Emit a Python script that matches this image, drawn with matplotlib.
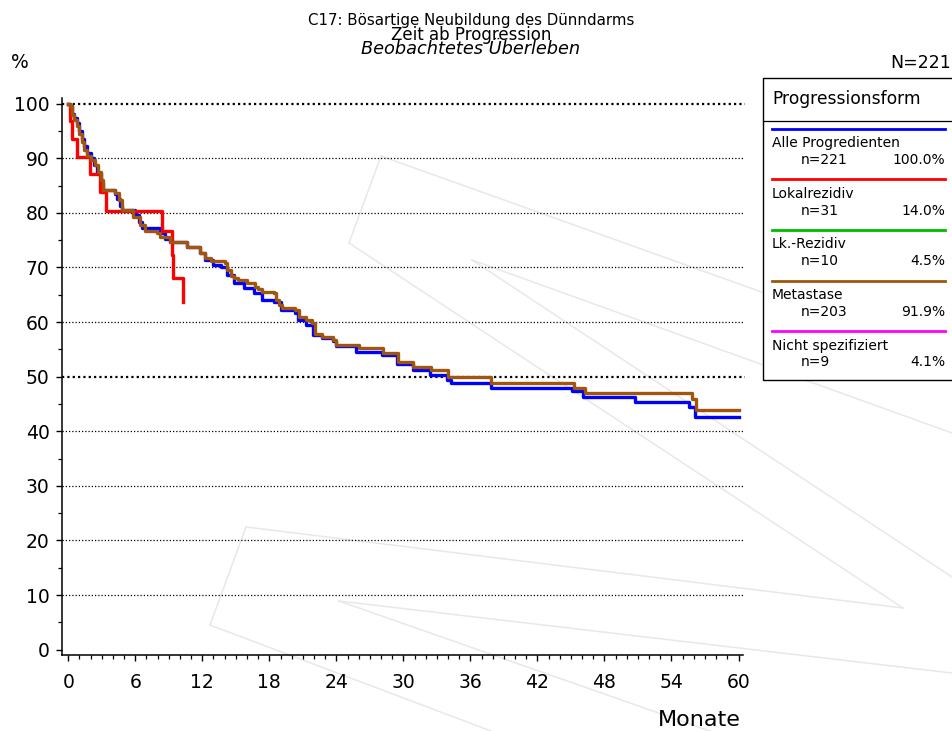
import numpy as np
import matplotlib.pyplot as plt
from matplotlib.patches import Rectangle
from matplotlib.lines import Line2D

# ----------
# DATA
# ----------
# Alle Progredienten (n=221)
alle_t = [0, 0.15, 0.3, 0.5, 0.8, 1.0, 1.2, 1.4, 1.7, 2.0, 2.3, 2.6, 2.9, 3.1,
          4.2, 4.4, 4.6, 4.8, 6.0, 6.3, 6.6, 8.2, 8.7, 9.1, 10.6, 11.8, 12.2,
          13.0, 13.7, 14.2, 14.8, 15.7, 16.6, 17.3, 18.4, 19.0, 20.3, 20.6,
          21.3, 21.9, 22.7, 23.7, 24.0, 25.8, 28.1, 29.4, 30.9, 32.4, 33.9,
          34.3, 37.8, 45.1, 46.1, 50.7, 55.6, 56.1, 60.0]
alle_s = [100, 99.5, 98.2, 97.3, 96.4, 95.0, 93.6, 92.3, 91.0, 90.0, 88.7, 87.3,
          85.5, 84.2, 83.5, 82.5, 81.2, 80.5, 79.6, 78.4, 77.2, 76.3, 75.3, 74.7,
          73.8, 72.6, 71.4, 70.5, 70.1, 68.6, 67.1, 66.2, 65.3, 64.0, 63.7, 62.2,
          61.6, 60.4, 59.5, 57.6, 57.0, 56.5, 55.6, 54.6, 54.0, 52.4, 51.2, 50.3,
          49.4, 48.8, 48.0, 47.3, 46.3, 45.3, 44.4, 42.6, 42.6]

# Lokalrezidiv (n=31)
lokal_t = [0, 0.15, 0.3, 0.75, 1.95, 2.85, 3.4, 8.4, 9.25, 9.4, 10.25]
lokal_s = [100, 96.8, 93.5, 90.3, 87.1, 83.9, 80.4, 76.6, 72.3, 68.0, 63.7]

# Metastase (n=203)
meta_t = [0, 0.15, 0.3, 0.5, 0.8, 1.0, 1.2, 1.4, 1.7, 2.0, 2.4, 2.7, 2.9, 3.1,
          4.2, 4.5, 4.8, 5.8, 6.4, 6.9, 7.9, 8.2, 9.1, 10.6, 11.8, 12.2, 12.8,
          14.0, 14.2, 14.6, 14.8, 15.2, 16.0, 16.7, 17.0, 17.3, 18.4, 18.6,
          18.9, 19.1, 20.3, 20.7, 21.3, 21.8, 22.1, 22.7, 23.7, 24.0, 26.0,
          28.2, 29.5, 30.9, 32.5, 34.0, 37.8, 45.3, 46.3, 55.8, 56.2, 60.0]
meta_s = [100, 99.5, 98.0, 97.0, 96.0, 94.5, 93.0, 91.5, 90.5, 89.7, 88.8, 87.5,
          86.0, 84.1, 83.6, 82.4, 80.5, 79.3, 77.8, 76.6, 76.3, 75.6, 74.7, 73.8,
          72.6, 71.7, 71.1, 70.8, 69.5, 68.5, 68.0, 67.7, 67.1, 66.5, 66.0, 65.6,
          65.3, 64.0, 63.2, 62.5, 62.2, 61.0, 60.4, 59.8, 57.9, 57.3, 56.7, 55.8,
          55.2, 54.3, 52.7, 51.8, 51.2, 50.0, 48.9, 47.9, 47.0, 46.0, 43.9, 43.9]

legend_names = ["Alle Progredienten", "Lokalrezidiv", "Lk.-Rezidiv",
                "Metastase", "Nicht spezifiziert"]
legend_n = [221, 31, 10, 203, 9]
legend_pct = ["100.0%", "14.0%", "4.5%", "91.9%", "4.1%"]
legend_colors = ["#0000ff", "#ff0000", "#00bb00", "#a0560c", "#ff00ff"]

x_ticks = list(range(0, 61, 6))
y_ticks = list(range(0, 101, 10))

# ----------
# FIGURE
# ----------
W, H = 952, 731
fig = plt.figure(figsize=(W / 100, H / 100), dpi=100)
plt.rcParams['font.family'] = ['DejaVu Sans']


def fx(px):
    return px / W


def fy(py):
    return 1 - py / H


# faint watermark lines in the background (figure pixel coords)
wm = [((381, 156), (349, 243)), ((381, 156), (952, 360)),
      ((349, 243), (903, 608)), ((472, 260), (952, 433)),
      ((472, 260), (952, 577)), ((246, 527), (210, 625)),
      ((246, 527), (903, 608)), ((210, 625), (491, 731)),
      ((339, 601), (952, 673)), ((339, 601), (710, 731))]
for (x0, y0), (x1, y1) in wm:
    fig.add_artist(Line2D([fx(x0), fx(x1)], [fy(y0), fy(y1)],
                          color="#e8e8e8", lw=1.1, zorder=0))

ax = fig.add_axes([fx(62), fy(655), fx(745) - fx(62), fy(98) - fy(655)])
ax.patch.set_alpha(0)
ax.set_xlim(-0.56, 60.58)
ax.set_ylim(-0.97, 101.04)

# dotted grid lines, 50 and 100 bolder
for yv in y_ticks[1:]:
    bold = yv in (50, 100)
    ax.axhline(yv, color="black", lw=1.6 if bold else 0.9,
               ls=(0, (1, 1.4)) if bold else (0, (1, 1.6)), zorder=1)

ax.plot(alle_t, alle_s, drawstyle="steps-post", color=legend_colors[0], lw=2.4, zorder=3)
ax.plot(lokal_t, lokal_s, drawstyle="steps-post", color=legend_colors[1], lw=2.4, zorder=4)
ax.plot(meta_t, meta_s, drawstyle="steps-post", color=legend_colors[3], lw=2.4, zorder=5)

for s in ("top", "right"):
    ax.spines[s].set_visible(False)
for s in ("left", "bottom"):
    ax.spines[s].set_linewidth(1.1)
ax.spines["bottom"].set_bounds(-0.56, 60.4)

ax.set_xticks(x_ticks)
ax.set_xticks(range(0, 61), minor=True)
ax.set_yticks(y_ticks)
ax.set_yticks(range(5, 100, 10), minor=True)
ax.tick_params(axis="both", which="major", direction="out", length=4, width=1.0,
               labelsize=13.5)
ax.tick_params(axis="both", which="minor", direction="out", length=3, width=0.9)
ax.tick_params(axis="x", which="major", pad=9)
ax.tick_params(axis="y", which="major", pad=5)

# ----------
# TEXTS
# ----------
fig.text(fx(471), fy(25.5), "C17: Bösartige Neubildung des Dünndarms",
         ha="center", va="baseline", fontsize=10.8)
fig.text(fx(471), fy(39.5), "Zeit ab Progression",
         ha="center", va="baseline", fontsize=12)
fig.text(fx(471), fy(54), "Beobachtetes Überleben",
         ha="center", va="baseline", fontsize=12.8, style="italic")
fig.text(fx(11), fy(68.5), "%", ha="left", va="baseline", fontsize=13.5)
fig.text(fx(951), fy(68.5), "N=221", ha="right", va="baseline", fontsize=12.5)
fig.text(fx(741), fy(726), "Monate", ha="right", va="baseline", fontsize=16)

# ----------
# LEGEND BOX
# ----------
box_l, box_t, box_b = 762.7, 78.3, 380.5
fig.add_artist(Rectangle((fx(box_l), fy(box_b)), fx(960) - fx(box_l),
                         fy(box_t) - fy(box_b), facecolor="white",
                         edgecolor="black", lw=1.0, zorder=6))
fig.add_artist(Line2D([fx(box_l), fx(960)], [fy(121), fy(121)],
                      color="black", lw=0.9, zorder=7))
fig.text(fx(772), fy(104), "Progressionsform", ha="left", va="baseline",
         fontsize=12.3, zorder=8)

for i, name in enumerate(legend_names):
    ly = 128.7 + i * 50.6
    fig.add_artist(Line2D([fx(772.3), fx(945)], [fy(ly), fy(ly)],
                          color=legend_colors[i], lw=2.0, zorder=8))
    fig.text(fx(772), fy(ly + 18.6), name, ha="left", va="baseline",
             fontsize=10, zorder=8)
    fig.text(fx(801), fy(ly + 35.3), f"n={legend_n[i]}", ha="left",
             va="baseline", fontsize=10, zorder=8)
    fig.text(fx(945), fy(ly + 35.3), legend_pct[i], ha="right",
             va="baseline", fontsize=10, zorder=8)

fig.savefig("out.png", dpi=100)
